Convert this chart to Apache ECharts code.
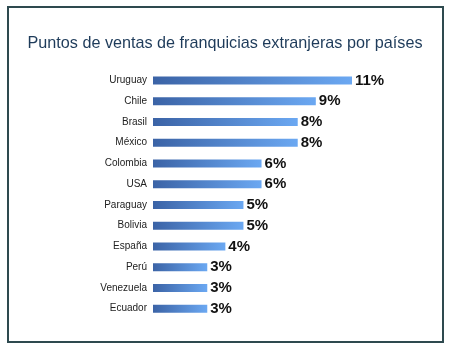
<!DOCTYPE html>
<html>
<head>
<meta charset="utf-8">
<script src="https://cdn.jsdelivr.net/npm/echarts@6/dist/echarts.min.js"></script>
<style>
  html, body { margin: 0; padding: 0; background: #fff; }
  #chart { width: 450px; height: 350px; }
</style>
</head>
<body>
<div id="chart"></div>
<script>
var paises = ["Uruguay", "Chile", "Brasil", "México", "Colombia", "USA",
  "Paraguay", "Bolivia", "España", "Perú", "Venezuela", "Ecuador"];
var porcentajes = [11, 9, 8, 8, 6, 6, 5, 5, 4, 3, 3, 3];

var myChart = echarts.init(document.getElementById("chart"));
var option = {
  animation: false,
  backgroundColor: "#ffffff",
  title: {
    text: "Puntos de ventas de franquicias extranjeras por países",
    left: "center",
    top: 31,
    textStyle: {
      color: "#1e3b5a",
      fontFamily: "Liberation Sans",
      fontWeight: "normal",
      fontSize: 16.2
    }
  },
  graphic: [
    {
      // marco
      type: "rect",
      shape: { x: 8, y: 7, width: 435, height: 335 },
      style: { fill: "none", stroke: "#2e4a4f", lineWidth: 2 },
      z: 100
    }
  ],
  grid: {
    left: 153,
    right: 98,
    top: 70,
    bottom: 31
  },
  xAxis: {
    type: "value",
    min: 0,
    max: 11,
    show: false
  },
  yAxis: {
    type: "category",
    inverse: true,
    data: paises,
    axisLine: { show: false },
    axisTick: { show: false },
    axisLabel: {
      margin: 6,
      color: "#222222",
      fontFamily: "Liberation Sans",
      fontSize: 10
    }
  },
  series: [
    {
      type: "bar",
      data: porcentajes,
      barWidth: 8,
      itemStyle: {
        color: new echarts.graphic.LinearGradient(0, 0, 1, 0, [
          { offset: 0, color: "#3b63a6" },
          { offset: 1, color: "#6ba8f2" }
        ])
      },
      label: {
        show: true,
        position: "right",
        distance: 3,
        formatter: "{c}%",
        color: "#111111",
        fontFamily: "Liberation Sans",
        fontWeight: "bold",
        fontSize: 15
      }
    }
  ]
};
myChart.setOption(option);
</script>
</body>
</html>
